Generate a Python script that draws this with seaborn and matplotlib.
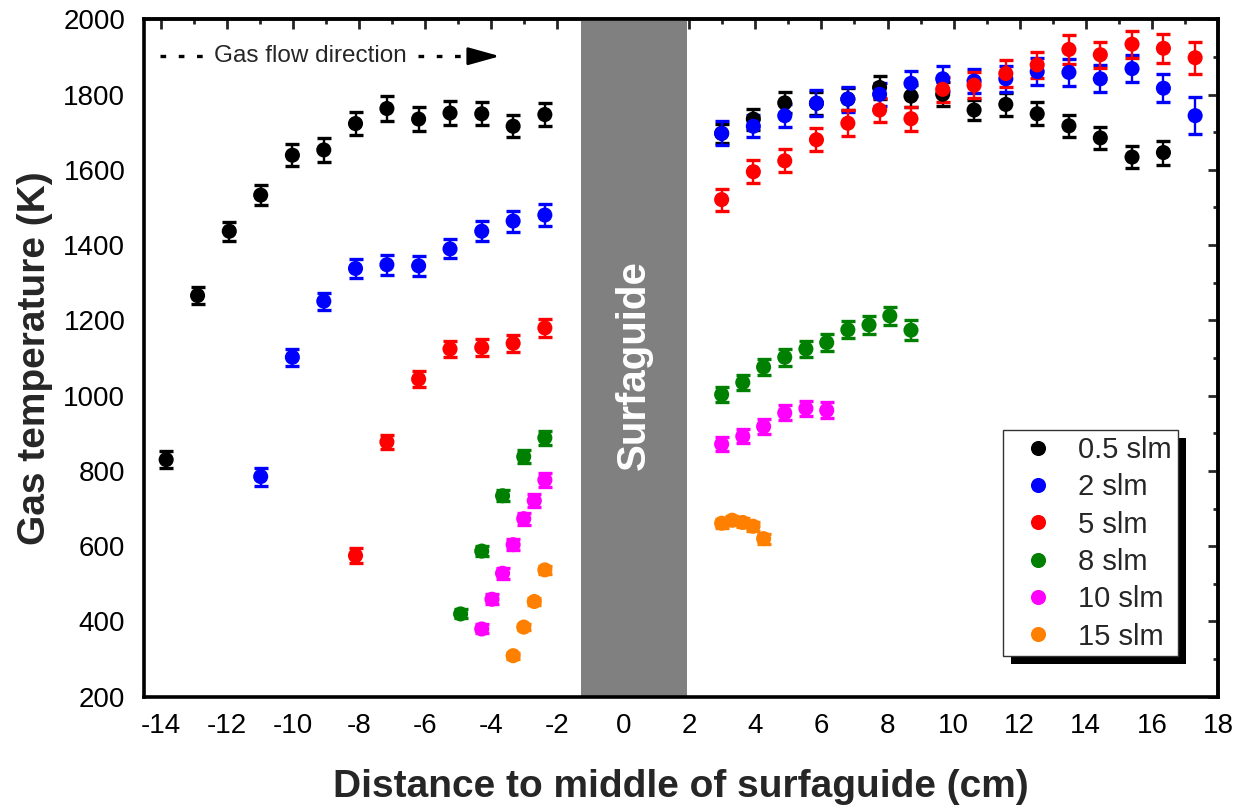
import numpy as np
import pandas as pd
import matplotlib
matplotlib.use("Agg")
import matplotlib.pyplot as plt
import seaborn as sns
from matplotlib.patches import Rectangle
from matplotlib.transforms import IdentityTransform
from matplotlib.ticker import MultipleLocator

# ---------------- data ----------------
series_labels = ["0.5 slm", "2 slm", "5 slm", "8 slm", "10 slm", "15 slm"]
series_colors = ["#000000", "#0000FF", "#FF0000", "#008000", "#FF00FF", "#FF8000"]

x_05 = [-13.83, -12.88, -11.92, -10.97, -10.01, -9.06, -8.10, -7.15, -6.19, -5.24, -4.28, -3.33, -2.37,
        2.98, 3.94, 4.89, 5.85, 6.80, 7.76, 8.71, 9.67, 10.62, 11.58, 12.53, 13.49, 14.44, 15.40, 16.35]
t_05 = [830, 1266, 1437, 1533, 1639, 1653, 1723, 1763, 1735, 1751, 1749, 1716, 1747,
        1697, 1735, 1778, 1777, 1788, 1819, 1796, 1801, 1759, 1774, 1749, 1717, 1685, 1634, 1646]
e_05 = [23, 22, 25, 27, 30, 31, 30, 32, 31, 31, 31, 30, 31,
        25, 28, 28, 30, 30, 31, 30, 32, 27, 31, 31, 30, 29, 29, 32]

x_2 = [-10.97, -10.01, -9.06, -8.10, -7.15, -6.19, -5.24, -4.28, -3.33, -2.37,
       2.98, 3.94, 4.89, 5.85, 6.80, 7.76, 8.71, 9.67, 10.62, 11.58, 12.53, 13.49, 14.44, 15.40, 16.35, 17.31]
t_2 = [785, 1102, 1251, 1338, 1348, 1345, 1390, 1437, 1464, 1480,
       1697, 1716, 1744, 1777, 1788, 1801, 1830, 1842, 1836, 1842, 1861, 1859, 1842, 1869, 1817, 1744]
e_2 = [24, 23, 23, 26, 27, 26, 25, 27, 28, 28,
       32, 30, 31, 34, 33, 31, 33, 33, 33, 35, 35, 36, 36, 36, 37, 50]

x_5 = [-8.10, -7.15, -6.19, -5.24, -4.28, -3.33, -2.37,
       2.98, 3.94, 4.89, 5.85, 6.80, 7.76, 8.71, 9.67, 10.62, 11.58, 12.53, 13.49, 14.44, 15.40, 16.35, 17.31]
t_5 = [575, 877, 1044, 1124, 1128, 1139, 1180,
       1521, 1595, 1624, 1680, 1724, 1759, 1736, 1814, 1825, 1856, 1879, 1920, 1906, 1934, 1923, 1898]
e_5 = [20, 19, 22, 22, 23, 23, 24,
       29, 30, 31, 31, 34, 33, 32, 34, 35, 35, 35, 38, 35, 36, 38, 43]

x_8 = [-4.92, -4.28, -3.65, -3.01, -2.37,
       2.98, 3.62, 4.25, 4.89, 5.53, 6.16, 6.80, 7.44, 8.07, 8.71]
t_8 = [420, 587, 734, 838, 888,
       1003, 1035, 1076, 1102, 1124, 1141, 1175, 1188, 1212, 1174]
e_8 = [12, 14, 15, 17, 18,
       19, 20, 21, 22, 22, 23, 23, 23, 24, 27]

x_10 = [-4.28, -3.97, -3.65, -3.33, -3.01, -2.69, -2.37,
        2.98, 3.62, 4.25, 4.89, 5.53, 6.16]
t_10 = [380, 459, 528, 604, 673, 721, 776,
        871, 892, 918, 954, 966, 961]
e_10 = [12, 13, 14, 15, 16, 17, 18,
        18, 19, 19, 20, 20, 21]

x_15 = [-3.33, -3.01, -2.69, -2.37,
        2.98, 3.30, 3.62, 3.93, 4.25]
t_15 = [309, 385, 453, 537,
        661, 669, 663, 653, 620]
e_15 = [8, 9, 10, 11,
        12, 12, 12, 12, 13]

surfaguide_span = (-1.29, 1.92)

xs = [x_05, x_2, x_5, x_8, x_10, x_15]
ts = [t_05, t_2, t_5, t_8, t_10, t_15]
es = [e_05, e_2, e_5, e_8, e_10, e_15]

df = pd.concat([pd.DataFrame({"x": x, "T": t, "err": e, "flow": lab})
                for x, t, e, lab in zip(xs, ts, es, series_labels)], ignore_index=True)

# ---------------- style ----------------
sns.set_style("white")
plt.rcParams["font.family"] = ["Liberation Sans", "DejaVu Sans"]
plt.rcParams["axes.unicode_minus"] = False

fig = plt.figure(figsize=(12.47, 8.09), dpi=100)
ax = fig.add_axes([0.1155, 0.1388, 0.8612, 0.8373])

ax.axvspan(*surfaguide_span, color="#808080", lw=0, zorder=1)
ax.text(sum(surfaguide_span) / 2, 1082, "Surfaguide", rotation=90, color="white",
        fontsize=29, fontweight="bold", ha="center", va="center", zorder=2)

for lab, col in zip(series_labels, series_colors):
    d = df[df["flow"] == lab]
    ax.errorbar(d["x"], d["T"], yerr=d["err"], fmt="none", ecolor=col,
                elinewidth=1.7, capsize=4.8, capthick=2.4, zorder=2)

sns.scatterplot(data=df, x="x", y="T", hue="flow", hue_order=series_labels,
                palette=series_colors, s=118, linewidth=0, ax=ax, zorder=3, legend=True)

ax.set_xlim(-14.5, 18)
ax.set_ylim(200, 2000)
ax.xaxis.set_major_locator(MultipleLocator(2))
ax.xaxis.set_minor_locator(MultipleLocator(1))
ax.yaxis.set_major_locator(MultipleLocator(200))
ax.yaxis.set_minor_locator(MultipleLocator(100))
ax.tick_params(which="major", direction="out", length=7.5, width=2, labelsize=20, pad=4,
               top=False, right=False, colors="black")
ax.tick_params(which="minor", direction="out", length=4, width=2, top=False, right=False)
ax.tick_params(axis="y", pad=6)
for sp in ax.spines.values():
    sp.set_linewidth(2.6)
    sp.set_color("black")
    sp.set_visible(True)

sec_x = ax.secondary_xaxis("top")
sec_x.xaxis.set_major_locator(MultipleLocator(2))
sec_x.xaxis.set_minor_locator(MultipleLocator(1))
sec_x.tick_params(which="major", direction="in", length=7, width=2, labeltop=False)
sec_x.tick_params(which="minor", direction="in", length=3.5, width=2)
sec_x.spines["top"].set_linewidth(2.6)

sec_y = ax.secondary_yaxis("right")
sec_y.yaxis.set_major_locator(MultipleLocator(200))
sec_y.yaxis.set_minor_locator(MultipleLocator(100))
sec_y.tick_params(which="major", direction="in", length=7, width=2, labelright=False)
sec_y.tick_params(which="minor", direction="in", length=3.5, width=2)
sec_y.spines["right"].set_linewidth(2.6)

ax.set_xlabel("Distance to middle of surfaguide (cm)", fontsize=28, fontweight="bold")
ax.set_ylabel("Gas temperature (K)", fontsize=28, fontweight="bold")
ax.xaxis.set_label_coords(0.5, -0.133)
ax.xaxis.label.set_va("center")
ax.yaxis.set_label_coords(-0.1015, 0.5)
ax.yaxis.label.set_va("center")

# gas flow direction annotation
flow_y = 1902
ax.plot([-14.01, -12.73], [flow_y, flow_y], color="black", lw=2.4,
        linestyle=(0, (1.7, 3.78)), dash_capstyle="butt", zorder=4)
ax.text(-12.39, flow_y, "Gas flow direction", fontsize=17.5, ha="left", va="center", zorder=4)
ax.plot([-6.21, -4.89], [flow_y, flow_y], color="black", lw=2.4,
        linestyle=(0, (1.7, 3.78)), dash_capstyle="butt", zorder=4)
ax.annotate("", xy=(-3.73, flow_y), xytext=(-4.54, flow_y),
            arrowprops=dict(arrowstyle="-|>,head_length=0.97,head_width=0.27",
                            mutation_scale=20, color="black", lw=2, shrinkA=0, shrinkB=0),
            zorder=4)

# legend
handles, labels = ax.get_legend_handles_labels()
leg = ax.legend(handles, labels, loc="upper left", bbox_to_anchor=(0.7995, 0.3937),
                borderaxespad=0, fontsize=21, frameon=True, fancybox=False,
                edgecolor="#333333", framealpha=1, borderpad=0.2, labelspacing=0.32,
                handletextpad=0.4, handlelength=2.0, markerscale=1.0)
leg.get_frame().set_linewidth(1.0)
leg.set_zorder(6)

fig.canvas.draw()
bb = leg.get_frame().get_window_extent(fig.canvas.get_renderer())
shadow = Rectangle((bb.x0 + 8, bb.y0 - 8), bb.width, bb.height, transform=IdentityTransform(),
                   facecolor="black", edgecolor="none", zorder=5.5, clip_on=False)
ax.add_patch(shadow)

fig.savefig("out.png", dpi=100)
